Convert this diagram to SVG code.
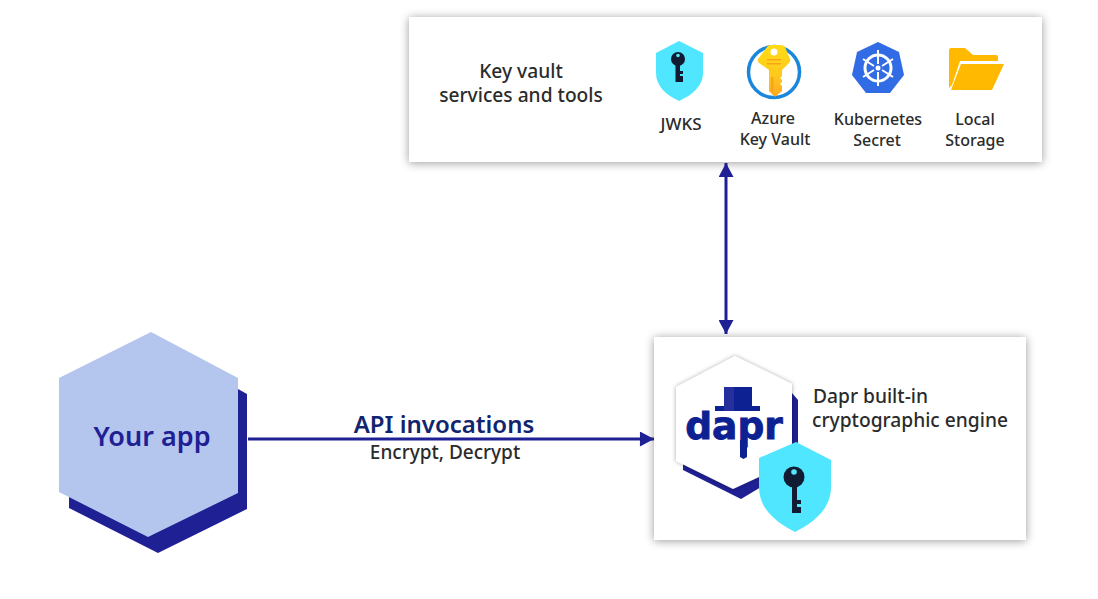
<svg xmlns="http://www.w3.org/2000/svg" width="1098" height="599" viewBox="0 0 1098 599">
<style>
text{font-family:"Noto Sans","Open Sans","Liberation Sans",sans-serif;text-anchor:middle;fill:#2b2b2b}
.lbl{font-size:16px;font-weight:500}
.big{font-size:19.200px;font-weight:500}
.conn{fill:none;stroke:#1f2093;stroke-width:3}
.box{fill:#fff;filter:url(#sh)}
.navy{fill:#111c33}
.cyan{fill:#50e6ff}
</style>
<defs>
<filter id="sh" x="-10%" y="-20%" width="120%" height="140%"><feDropShadow dx="0" dy="1" stdDeviation="5" flood-color="#000" flood-opacity=".4"/></filter>
<filter id="sh2" x="-10%" y="-10%" width="120%" height="120%"><feDropShadow dx="0" dy="0" stdDeviation="2" flood-color="#000" flood-opacity=".35"/></filter>
<marker id="ah" viewBox="0 0 15 16" refX="15" refY="8" markerWidth="15" markerHeight="15" markerUnits="userSpaceOnUse" orient="auto-start-reverse"><path d="M0 0L15 8L0 16Z" fill="#1f2093"/></marker>
<linearGradient id="kg" x1="0" y1="0" x2="0" y2="1"><stop offset="0" stop-color="#ffdc14"/><stop offset=".6" stop-color="#ffc81e"/><stop offset="1" stop-color="#ffa81e"/></linearGradient>
</defs>
<g id="vault">
<rect class="box" x="409" y="17" width="633" height="145"/>
<text class="big" x="521" y="78">Key vault</text>
<text class="big" x="521" y="102">services and tools</text>
</g>
<g id="jwks">
<path class="cyan" d="M679 41L703 53V73C703 86 692 95 679 101C666 95 656 86 656 73V53Z"/>
<circle class="navy" cx="678" cy="59" r="7"/><circle class="cyan" cx="678" cy="55.500" r="1.800"/>
<path class="navy" d="M675.500 62H680V71H683V74H680V76H683V82H675.500Z"/>
<text x="681" y="130" font-size="17" font-weight="500">JWKS</text>
</g>
<g id="azure">
<circle cx="774" cy="72" r="25.500" fill="#fff" stroke="#1b87dc" stroke-width="3.500"/>
<path fill="url(#kg)" d="M758 59L767 47Q768 45 771 45H781Q783 45 785 47L790 59Q791 61 789 63L782 70V76L780 78L782 80V82L780 84L782 86V91L776 96Q775 97 774 96L769 91V70L759 63Q757 61 758 59Z"/>
<circle cx="774" cy="52" r="3.500" fill="#fff"/>
<path fill="#f7a51b" d="M767 59H781V60.500H767ZM767 63H781V64.500H767ZM771 77H773.500V94L771 91Z"/>
<text class="lbl" x="773" y="124">Azure</text>
<text class="lbl" x="775" y="145">Key Vault</text>
</g>
<g id="k8s">
<path fill="#326ce5" d="M878 42L899 52L904 75L890 93H866L852 75L857 52Z"/>
<g fill="none" stroke="#fff">
<circle cx="878" cy="68" r="13" stroke-width="3"/>
<path stroke-width="2" d="M878 50V64M878 72V86M863 59L874 66M882 70L893 77M893 59L882 66M874 70L863 77"/>
</g>
<circle cx="878" cy="68" r="2.500" fill="#fff"/>
<text class="lbl" x="878" y="125">Kubernetes</text>
<text class="lbl" x="877" y="146">Secret</text>
</g>
<g id="local">
<path fill="#ffb900" d="M949 50Q949 48 951 48H965L973 55H996Q998 55 998 57V61H960L952 85L949 88Z"/>
<path fill="#ffb900" d="M961 64H1004L992 90H951Z"/>
<text class="lbl" x="975" y="125">Local</text>
<text class="lbl" x="975" y="146">Storage</text>
</g>
<g id="engine">
<rect class="box" x="654" y="337" width="372" height="203"/>
<path fill="#1f2093" d="M792 393L798 400V465L741 499L683 470V455L740 440Z"/>
<path fill="#fff" filter="url(#sh2)" d="M735 356L792 384V462L733 489L676 461V387Z"/>
<rect x="715" y="406" width="45" height="5" fill="#0d2192"/>
<rect x="724" y="387" width="28" height="19" fill="#0d2192"/>
<rect x="724" y="387" width="10" height="24" fill="#25309c"/>
<text x="734" y="439" font-size="37.500" font-weight="700" stroke="#0d2192" stroke-width=".9" style="font-family:'DejaVu Sans',sans-serif;fill:#0d2192">dapr</text>
<path fill="#0d2192" d="M740 440H747V457L743.500 459L740 457Z"/>
<path class="cyan" d="M796 442L831 460V487C831 508 815 522 795 532C775 522 759 508 759 487V458Z"/>
<circle class="navy" cx="794" cy="477" r="10.500"/><circle class="cyan" cx="794" cy="472" r="2.800"/>
<path class="navy" d="M792 485H797V500H801V504H797V507H801V513H792Z"/>
<text class="big" x="813" y="403" style="text-anchor:start">Dapr built-in</text>
<text class="big" x="812" y="427" style="text-anchor:start">cryptographic engine</text>
</g>
<g id="app">
<path fill="#1f2093" d="M238 389L247 394V509L158 553L69 508V497L150 450Z"/>
<path fill="#b4c6ee" d="M151 332L238 378V493L148 537L59 492V378Z"/>
<text x="152" y="446" font-size="27" font-weight="600" style="fill:#1f2093">Your app</text>
</g>
<g id="connectors">
<path class="conn" d="M248 439H654" marker-end="url(#ah)"/>
<path class="conn" d="M726 163V334" marker-start="url(#ah)" marker-end="url(#ah)"/>
</g>
<g id="labels">
<text x="444" y="433" font-size="24" font-weight="600" style="fill:#10256e">API invocations</text>
<text x="445" y="459" font-size="19" font-weight="500">Encrypt, Decrypt</text>
</g>
</svg>
